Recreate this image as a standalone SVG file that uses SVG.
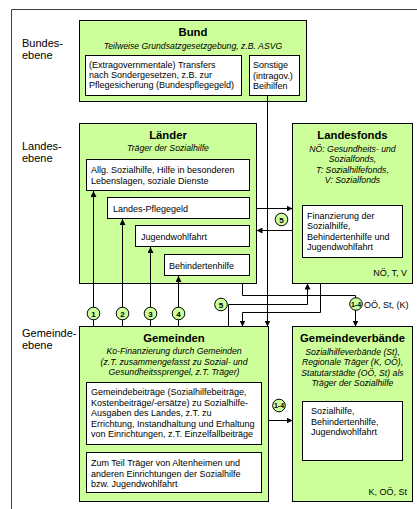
<svg xmlns="http://www.w3.org/2000/svg" width="417" height="509" viewBox="0 0 417 509">
<defs>
<marker id="ah" markerUnits="userSpaceOnUse" markerWidth="6" markerHeight="6" refX="6" refY="3" orient="auto">
<path d="M0,0 L6,3 L0,6 z" fill="#000"/>
</marker>
<style>
text{font-family:"Liberation Sans",Arial,sans-serif;fill:#000}
.lvl{font-size:11px}
.ttl{font-size:11.3px;font-weight:bold;text-anchor:middle}
.sub{font-size:8.7px;font-style:italic;text-anchor:middle}
.bd{font-size:9px}
.rt{font-size:9px;text-anchor:end}
.num{font-size:8px;font-weight:bold;text-anchor:middle}
.num2{font-size:7px;font-weight:bold;text-anchor:middle}
.grn{fill:#CCFF99;stroke:#000;stroke-width:1}
.wht{fill:#fff;stroke:#000;stroke-width:1}
.ln{fill:none;stroke:#000;stroke-width:1}
.circ{fill:#CCFF99;stroke:#000;stroke-width:1}
</style>
</defs>
<rect width="417" height="509" fill="#fff"/>
<path d="M11.5,509 V9.5 H417" fill="none" stroke="#404040" stroke-width="1"/>

<g id="levels">
<text class="lvl" x="22" y="47">Bundes-</text>
<text class="lvl" x="22" y="59">ebene</text>
<text class="lvl" x="22" y="149.5">Landes-</text>
<text class="lvl" x="22" y="162">ebene</text>
<text class="lvl" x="22" y="336.5">Gemeinde-</text>
<text class="lvl" x="22" y="349">ebene</text>
</g>

<g id="bund">
<rect class="grn" x="79.5" y="20.5" width="227" height="81"/>
<text class="ttl" x="193" y="36">Bund</text>
<text class="sub" x="193" y="49">Teilweise Grundsatzgesetzgebung, z.B. ASVG</text>
<rect class="wht" x="85.5" y="55.5" width="156" height="40"/>
<text class="bd" x="89" y="68">(Extragovernmentale) Transfers</text>
<text class="bd" x="89" y="78">nach Sondergesetzen, z.B. zur</text>
<text class="bd" x="89" y="88">Pflegesicherung (Bundespflegegeld)</text>
<rect class="wht" x="249.5" y="55.5" width="50" height="40"/>
<text class="bd" x="253" y="68">Sonstige</text>
<text class="bd" x="253" y="78.5">(intragov.)</text>
<text class="bd" x="253" y="89">Beihilfen</text>
</g>

<g id="laender">
<rect class="grn" x="79.5" y="123.5" width="177" height="160"/>
<text class="ttl" x="168" y="139">Länder</text>
<text class="sub" x="168" y="150.5">Träger der Sozialhilfe</text>
<rect class="wht" x="86.5" y="159.5" width="163" height="31"/>
<text class="bd" x="91" y="173">Allg. Sozialhilfe, Hilfe in besonderen</text>
<text class="bd" x="91" y="183.5">Lebenslagen, soziale Dienste</text>
<rect class="wht" x="107.5" y="197.5" width="142" height="21"/>
<text class="bd" x="113" y="211.5">Landes-Pflegegeld</text>
<rect class="wht" x="135.5" y="225.5" width="114" height="21"/>
<text class="bd" x="141" y="239.5">Jugendwohlfahrt</text>
<rect class="wht" x="164.5" y="254.5" width="85" height="21"/>
<text class="bd" x="169" y="268.5">Behindertenhilfe</text>
</g>

<g id="landesfonds">
<rect class="grn" x="292.5" y="123.5" width="120" height="160"/>
<text class="ttl" x="352.5" y="138.5">Landesfonds</text>
<text class="sub" x="352.5" y="151.5">NÖ: Gesundheits- und</text>
<text class="sub" x="352.5" y="162">Sozialfonds,</text>
<text class="sub" x="352.5" y="172.5">T: Sozialhilfefonds,</text>
<text class="sub" x="352.5" y="183">V: Sozialfonds</text>
<rect class="wht" x="302.5" y="205.5" width="100" height="52"/>
<text class="bd" x="307" y="218.5">Finanzierung der</text>
<text class="bd" x="307" y="229">Sozialhilfe,</text>
<text class="bd" x="307" y="239.5">Behindertenhilfe und</text>
<text class="bd" x="307" y="250">Jugendwohlfahrt</text>
<text class="rt" x="407" y="276">NÖ, T, V</text>
</g>

<g id="gemeinden">
<rect class="grn" x="79.5" y="326.5" width="189" height="175"/>
<text class="ttl" x="174" y="341.5">Gemeinden</text>
<text class="sub" x="174" y="354">Ko-Finanzierung durch Gemeinden</text>
<text class="sub" x="174" y="364.5">(z.T. zusammengefasst zu Sozial- und</text>
<text class="sub" x="174" y="375">Gesundheitssprengel, z.T. Träger)</text>
<rect class="wht" x="86.5" y="382.5" width="175" height="62"/>
<text class="bd" x="91" y="395">Gemeindebeiträge (Sozialhilfebeiträge,</text>
<text class="bd" x="91" y="405.5">Kostenbeiträge/-ersätze) zu Sozialhilfe-</text>
<text class="bd" x="91" y="416">Ausgaben des Landes, z.T. zu</text>
<text class="bd" x="91" y="426.5">Errichtung, Instandhaltung und Erhaltung</text>
<text class="bd" x="91" y="437">von Einrichtungen, z.T. Einzelfallbeiträge</text>
<rect class="wht" x="86.5" y="452.5" width="175" height="40"/>
<text class="bd" x="91" y="466">Zum Teil Träger von Altenheimen und</text>
<text class="bd" x="91" y="476.5">anderen Einrichtungen der Sozialhilfe</text>
<text class="bd" x="91" y="487">bzw. Jugendwohlfahrt</text>
</g>

<g id="gemeindeverbaende">
<rect class="grn" x="292.5" y="326.5" width="120" height="175"/>
<text class="ttl" x="352.5" y="341.5">Gemeindeverbände</text>
<text class="sub" x="352.5" y="354.5">Sozialhilfeverbände (St),</text>
<text class="sub" x="352.5" y="365">Regionale Träger (K, OÖ),</text>
<text class="sub" x="352.5" y="375.5">Statutarstädte (OÖ, St) als</text>
<text class="sub" x="352.5" y="386">Träger der Sozialhilfe</text>
<rect class="wht" x="302.5" y="401.5" width="100" height="59"/>
<text class="bd" x="311" y="414">Sozialhilfe,</text>
<text class="bd" x="311" y="424.5">Behindertenhilfe,</text>
<text class="bd" x="311" y="435">Jugendwohlfahrt</text>
<text class="rt" x="407" y="495">K, OÖ, St</text>
</g>

<g id="connectors">
<path class="ln" d="M93.5,326.5 V191" marker-end="url(#ah)"/>
<path class="ln" d="M122.5,326.5 V219" marker-end="url(#ah)"/>
<path class="ln" d="M150.5,326.5 V247" marker-end="url(#ah)"/>
<path class="ln" d="M178.5,326.5 V276" marker-end="url(#ah)"/>
<path class="ln" d="M267.5,95.5 V326.5" marker-end="url(#ah)"/>
<path class="ln" d="M256.5,208.5 H292.5" marker-end="url(#ah)"/>
<path class="ln" d="M292.5,230.5 H256.5" marker-end="url(#ah)"/>
<path class="ln" d="M242.5,283.5 V295.5 H355.5 V326.5" marker-end="url(#ah)"/>
<path class="ln" d="M228.5,326.5 V304.5 H307.5 V283.5" marker-end="url(#ah)"/>
<path class="ln" d="M320.5,283.5 V312.5 H242.5 V326.5" marker-end="url(#ah)"/>
<path class="ln" d="M268.5,420.5 H292.5" marker-end="url(#ah)"/>
<circle class="circ" cx="93.5" cy="313.5" r="6.3"/>
<text class="num" x="93.5" y="316.5">1</text>
<circle class="circ" cx="122.5" cy="313.5" r="6.3"/>
<text class="num" x="122.5" y="316.5">2</text>
<circle class="circ" cx="150.5" cy="313.5" r="6.3"/>
<text class="num" x="150.5" y="316.5">3</text>
<circle class="circ" cx="178.5" cy="313.5" r="6.3"/>
<text class="num" x="178.5" y="316.5">4</text>
<circle class="circ" cx="281.5" cy="219.5" r="6.3"/>
<text class="num" x="281.5" y="222.5">5</text>
<circle class="circ" cx="221" cy="304.5" r="6.3"/>
<text class="num" x="221" y="307.5">5</text>
<circle class="circ" cx="356" cy="304" r="6.3"/>
<text class="num2" x="356" y="306.5">1-4</text>
<text class="bd" x="364" y="307.5">OÖ, St, (K)</text>
<circle class="circ" cx="279" cy="405.5" r="6.3"/>
<text class="num2" x="279" y="408">1-4</text>
</g>
</svg>
